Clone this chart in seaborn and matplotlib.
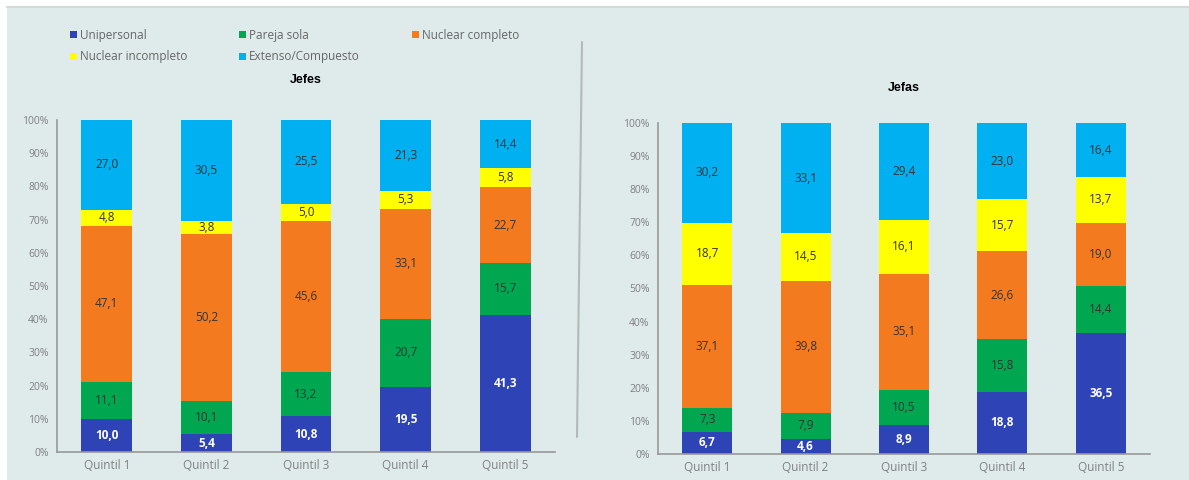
import numpy as np
import pandas as pd
import seaborn as sns
import matplotlib.pyplot as plt
from matplotlib.patches import Rectangle
from matplotlib.lines import Line2D

sns.set_style("white")
plt.rcParams['font.family'] = ['Open Sans', 'DejaVu Sans']

quintiles = ["Quintil 1", "Quintil 2", "Quintil 3", "Quintil 4", "Quintil 5"]
tipos = ["Unipersonal", "Pareja sola", "Nuclear completo", "Nuclear incompleto", "Extenso/Compuesto"]
colores = ["#2e43b6", "#00a650", "#f47a20", "#ffff00", "#00b0f0"]

# bottom to top: Unipersonal, Pareja sola, Nuclear completo, Nuclear incompleto, Extenso
jefes_unipersonal = [10.0, 5.4, 10.8, 19.5, 41.3]
jefes_pareja = [11.1, 10.1, 13.2, 20.7, 15.7]
jefes_nuc_comp = [47.1, 50.2, 45.6, 33.1, 22.7]
jefes_nuc_incomp = [4.8, 3.8, 5.0, 5.3, 5.8]
jefes_extenso = [27.0, 30.5, 25.5, 21.3, 14.4]

jefas_unipersonal = [6.7, 4.6, 8.9, 18.8, 36.5]
jefas_pareja = [7.3, 7.9, 10.5, 15.8, 14.4]
jefas_nuc_comp = [37.1, 39.8, 35.1, 26.6, 19.0]
jefas_nuc_incomp = [18.7, 14.5, 16.1, 15.7, 13.7]
jefas_extenso = [30.2, 33.1, 29.4, 23.0, 16.4]

jefes = [jefes_unipersonal, jefes_pareja, jefes_nuc_comp, jefes_nuc_incomp, jefes_extenso]
jefas = [jefas_unipersonal, jefas_pareja, jefas_nuc_comp, jefas_nuc_incomp, jefas_extenso]

bg = "#dfebeb"
fig = plt.figure(figsize=(11.89, 4.8), dpi=100, facecolor="white")
fig.patches.append(Rectangle((7 / 1189, 0), 1, 1 - 7 / 480, transform=fig.transFigure,
                             facecolor=bg, edgecolor="none", zorder=-5))
# thin shade under the white top strip
fig.lines.append(Line2D([7 / 1189, 1], [1 - 7 / 480, 1 - 7 / 480], transform=fig.transFigure,
                        color="#d4d9d9", lw=1.5, zorder=-4))
# separator between panels
fig.lines.append(Line2D([582 / 1189, 577 / 1189], [1 - 42 / 480, 1 - 437 / 480],
                        transform=fig.transFigure, color="#b5b9b9", lw=1.5, zorder=-4))


def panel(ax, series, title, title_y):
    cum = np.cumsum(np.array(series), axis=0)
    # draw tallest stack first so each shorter one lies on top
    for k in range(len(tipos) - 1, -1, -1):
        df = pd.DataFrame({"q": quintiles, "v": cum[k]})
        sns.barplot(data=df, x="q", y="v", color=colores[k], width=0.51,
                    saturation=1, ax=ax, edgecolor="none")
    for k in range(len(tipos)):
        for i in range(len(quintiles)):
            val = series[k][i]
            mid = cum[k][i] - val / 2
            if k == 0:
                ax.text(i, mid, f"{val:.1f}".replace(".", ","), ha="center", va="center",
                        fontsize=8.5, color="white", fontweight="bold")
            else:
                ax.text(i, mid, f"{val:.1f}".replace(".", ","), ha="center", va="center",
                        fontsize=8.5, color="#333333")
    ax.patch.set_alpha(0)
    ax.set_ylim(0, 100)
    ax.set_xlim(-0.5, 4.5)
    ax.set_yticks(np.arange(0, 101, 10))
    ax.set_yticklabels([f"{t}%" for t in range(0, 101, 10)], fontsize=7.5, color="#808080")
    ax.set_xticks(range(5))
    ax.set_xticklabels(quintiles, fontsize=8.5, color="#808080")
    ax.tick_params(axis="x", length=0, pad=5)
    ax.tick_params(axis="y", length=4, width=1, color="#999999", pad=2)
    # category boundary ticks like Excel
    ax.set_xticks(np.arange(-0.5, 5, 1), minor=True)
    ax.tick_params(axis="x", which="minor", length=4, width=1, color="#999999")
    ax.set_xlabel("")
    ax.set_ylabel("")
    for s in ["top", "right"]:
        ax.spines[s].set_visible(False)
    for s in ["left", "bottom"]:
        ax.spines[s].set_color("#999999")
        ax.spines[s].set_linewidth(1.2)
    fig.text((ax.get_position().x0 + ax.get_position().x1) / 2, title_y, title,
             ha="center", va="center", fontsize=9, fontweight="bold", color="black",
             family=["Liberation Sans", "DejaVu Sans"])


ax1 = fig.add_axes([57 / 1189, 1 - 452 / 480, 498 / 1189, 332 / 480])
ax2 = fig.add_axes([658 / 1189, 1 - 454 / 480, 492 / 1189, 331 / 480])
panel(ax1, jefes, "Jefes", 1 - 80 / 480)
panel(ax2, jefas, "Jefas", 1 - 88 / 480)

# legend at top left, filled row by row
handles = [Rectangle((0, 0), 1, 1, facecolor=c, edgecolor="none") for c in colores]
order = [0, 3, 1, 4, 2]
leg = fig.legend([handles[i] for i in order], [tipos[i] for i in order], ncol=3,
                 loc="upper left", bbox_to_anchor=(59 / 1189, 1 - 18 / 480),
                 frameon=False, fontsize=8.5, handlelength=0.6, handleheight=0.6,
                 handletextpad=0.25, columnspacing=4.4, labelspacing=0.75)
for t in leg.get_texts():
    t.set_color("#666666")

fig.savefig("out.png", dpi=100, facecolor="white")
